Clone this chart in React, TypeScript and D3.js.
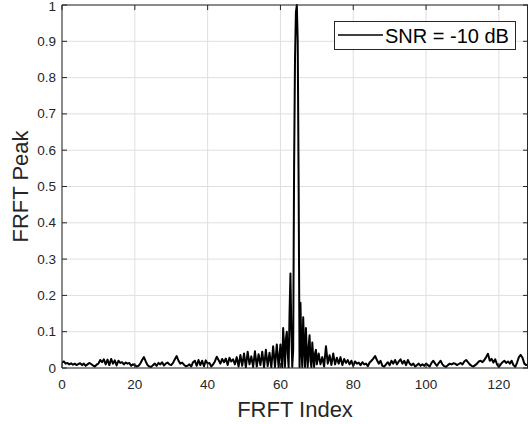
import React from "react";
import * as d3 from "d3";

// FRFT peak values, left noise region: index 0 .. 59.5 (step 0.5)
const leftValues: number[] = [
  0.015, 0.018, 0.012, 0.014, 0.010, 0.013, 0.009, 0.012, 0.008, 0.011,
  0.013, 0.008, 0.012, 0.006, 0.010, 0.014, 0.011, 0.007, 0.004, 0.009,
  0.012, 0.022, 0.016, 0.024, 0.010, 0.023, 0.008, 0.025, 0.012, 0.021,
  0.007, 0.020, 0.014, 0.016, 0.010, 0.015, 0.012, 0.014, 0.006, 0.010,
  0.008, 0.004, 0.006, 0.012, 0.022, 0.030, 0.018, 0.008, 0.004, 0.003,
  0.008, 0.012, 0.006, 0.014, 0.010, 0.016, 0.007, 0.012, 0.015, 0.010,
  0.008, 0.014, 0.024, 0.033, 0.020, 0.012, 0.015, 0.009, 0.005, 0.006,
  0.010, 0.004, 0.016, 0.020, 0.006, 0.022, 0.008, 0.020, 0.005, 0.021,
  0.012, 0.014, 0.004, 0.010, 0.018, 0.031, 0.022, 0.012, 0.025, 0.016,
  0.026, 0.008, 0.028, 0.018, 0.024, 0.010, 0.030, 0.004, 0.036, 0.006,
  0.040, 0.002, 0.045, 0.010, 0.032, 0.003, 0.046, 0.004, 0.038, 0.008,
  0.045, 0.002, 0.050, 0.005, 0.042, 0.002, 0.060, 0.003, 0.065, 0.002,
];
const leftStart = 0;
const leftStep = 0.5;

// Main lobe region: index 60 .. 69.75 (step 0.25)
const centerValues: number[] = [
  0.065, 0.030, 0.002, 0.110, 0.060, 0.003, 0.080, 0.100, 0.040, 0.002,
  0.150, 0.260, 0.100, 0.003, 0.050, 0.550, 0.850, 0.980, 1.000, 0.900,
  0.500, 0.003, 0.180, 0.050, 0.003, 0.140, 0.060, 0.003, 0.110, 0.040,
  0.003, 0.060, 0.090, 0.020, 0.003, 0.070, 0.030, 0.003, 0.040, 0.050,
];
const centerStart = 60;
const centerStep = 0.25;

// Right noise region: index 70 .. 128 (step 0.5)
const rightValues: number[] = [
  0.010, 0.040, 0.010, 0.030, 0.004, 0.060, 0.012, 0.035, 0.008, 0.040,
  0.010, 0.028, 0.012, 0.030, 0.008, 0.025, 0.014, 0.022, 0.010, 0.020,
  0.006, 0.018, 0.012, 0.015, 0.008, 0.016, 0.010, 0.012, 0.005, 0.015,
  0.020, 0.026, 0.033, 0.022, 0.012, 0.020, 0.006, 0.004, 0.010, 0.016,
  0.008, 0.020, 0.012, 0.022, 0.010, 0.018, 0.024, 0.012, 0.020, 0.008,
  0.022, 0.012, 0.008, 0.012, 0.004, 0.008, 0.012, 0.006, 0.010, 0.006,
  0.012, 0.008, 0.004, 0.014, 0.020, 0.012, 0.006, 0.014, 0.020, 0.010,
  0.005, 0.003, 0.008, 0.012, 0.010, 0.013, 0.012, 0.008, 0.011, 0.014,
  0.010, 0.018, 0.022, 0.016, 0.010, 0.006, 0.004, 0.008, 0.012, 0.018,
  0.020, 0.016, 0.022, 0.030, 0.039, 0.020, 0.025, 0.015, 0.024, 0.010,
  0.003, 0.010, 0.016, 0.020, 0.014, 0.018, 0.012, 0.020, 0.008, 0.003,
  0.015, 0.030, 0.036, 0.028, 0.012, 0.008, 0.010,
];
const rightStart = 70;
const rightStep = 0.5;

const xTicks = [0, 20, 40, 60, 80, 100, 120];
const yTicks = [0, 0.1, 0.2, 0.3, 0.4, 0.5, 0.6, 0.7, 0.8, 0.9, 1];
const xLabel = "FRFT Index";
const yLabel = "FRFT Peak";
const legendLabel = "SNR = -10 dB";

const W = 528;
const H = 424;
const M = { left: 62, top: 5, right: 528, bottom: 368 };
const FONT = "'Liberation Sans', Arial, Helvetica, sans-serif";
const AX = "#262626";

export default function App() {
  const x = d3.scaleLinear().domain([0, 128]).range([M.left, M.right]);
  const y = d3.scaleLinear().domain([0, 1]).range([M.bottom, M.top]);

  const pts: [number, number][] = [];
  leftValues.forEach((v, i) => pts.push([leftStart + i * leftStep, v]));
  centerValues.forEach((v, i) => pts.push([centerStart + i * centerStep, v]));
  rightValues.forEach((v, i) => pts.push([rightStart + i * rightStep, v]));

  const line = d3
    .line<[number, number]>()
    .x((d) => x(d[0]))
    .y((d) => y(d[1]));

  const tl = 5;
  const fmtY = (v: number) => (v === 0 ? "0" : v === 1 ? "1" : String(v));

  return (
    <svg
      width={W}
      height={H}
      style={{ position: "absolute", left: 0, top: 0, background: "#fff" }}
      fontFamily={FONT}
    >
      <defs>
        <clipPath id="plotclip">
          <rect x={M.left} y={M.top - 1} width={M.right - M.left} height={M.bottom - M.top + 1} />
        </clipPath>
      </defs>
      <rect x={M.left} y={M.top} width={M.right - M.left} height={M.bottom - M.top} fill="#fff" />
      {/* grid */}
      {xTicks.map((t) => (
        <line key={"gx" + t} x1={x(t)} x2={x(t)} y1={M.top} y2={M.bottom} stroke="#dfdfdf" strokeWidth={1} />
      ))}
      {yTicks.map((t) => (
        <line key={"gy" + t} x1={M.left} x2={M.right} y1={y(t)} y2={y(t)} stroke="#dfdfdf" strokeWidth={1} />
      ))}
      {/* data */}
      <path
        d={line(pts) || ""}
        fill="none"
        stroke="#000"
        strokeWidth={2}
        strokeLinejoin="round"
        clipPath="url(#plotclip)"
      />
      {/* axes box */}
      <line x1={M.left} x2={M.right} y1={M.bottom} y2={M.bottom} stroke={AX} strokeWidth={1} />
      <line x1={M.left} x2={M.right} y1={M.top} y2={M.top} stroke={AX} strokeWidth={1} />
      <line x1={M.left} x2={M.left} y1={M.top} y2={M.bottom} stroke={AX} strokeWidth={1} />
      <line x1={M.right - 0.5} x2={M.right - 0.5} y1={M.top} y2={M.bottom} stroke={AX} strokeWidth={1} />
      {/* ticks */}
      {xTicks.map((t) => (
        <g key={"tx" + t}>
          <line x1={x(t)} x2={x(t)} y1={M.bottom} y2={M.bottom - tl} stroke={AX} />
          <line x1={x(t)} x2={x(t)} y1={M.top} y2={M.top + tl} stroke={AX} />
          <text x={x(t)} y={384} textAnchor="middle" dominantBaseline="central" fontSize={13.5} fill={AX}>
            {t}
          </text>
        </g>
      ))}
      {yTicks.map((t) => (
        <g key={"ty" + t}>
          <line x1={M.left} x2={M.left + tl} y1={y(t)} y2={y(t)} stroke={AX} />
          <line x1={M.right} x2={M.right - tl} y1={y(t)} y2={y(t)} stroke={AX} />
          <text x={56} y={Math.max(y(t), 6.5)} textAnchor="end" dominantBaseline="central" fontSize={13.5} fill={AX}>
            {fmtY(t)}
          </text>
        </g>
      ))}
      {/* axis labels */}
      <text x={(M.left + M.right) / 2} y={409} textAnchor="middle" dominantBaseline="central" fontSize={22} fill={AX}>
        {xLabel}
      </text>
      <text
        transform={`translate(20,${(M.top + M.bottom) / 2}) rotate(-90)`}
        textAnchor="middle"
        dominantBaseline="central"
        fontSize={22}
        fill={AX}
      >
        {yLabel}
      </text>
      {/* legend */}
      <rect x={334.5} y={21.5} width={181} height={28} fill="#fff" stroke={AX} strokeWidth={1} />
      <line x1={338} x2={383} y1={35} y2={35} stroke="#000" strokeWidth={1.7} />
      <text x={385} y={35.5} dominantBaseline="central" fontSize={20} fill="#000">
        {legendLabel}
      </text>
    </svg>
  );
}
